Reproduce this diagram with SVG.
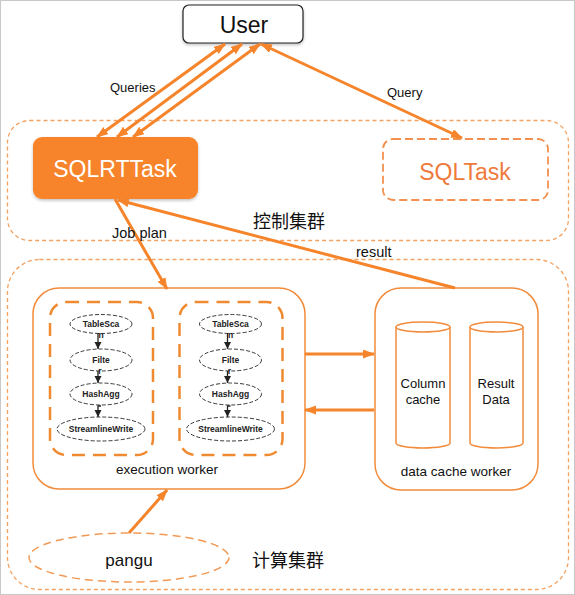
<svg xmlns="http://www.w3.org/2000/svg" width="575" height="595" viewBox="0 0 575 595">
<style>
.lbl{font-family:"Liberation Sans",Arial,sans-serif;fill:#111}
.cjk{font-family:"Noto Sans CJK SC","Liberation Sans",sans-serif;fill:#111;font-size:18px}
.grp{fill:none;stroke:#F4A261;stroke-width:1.3;stroke-dasharray:4 3}
.wk{fill:#fff;stroke:#F28C3C;stroke-width:1.5}
.op{fill:#fff;stroke:#222;stroke-width:0.9;stroke-dasharray:4 2}
.opt{font-family:"Liberation Sans",Arial,sans-serif;font-weight:bold;font-size:8.5px;fill:#222;text-anchor:middle}
.ink{stroke:#222;stroke-width:1.3;fill:none}
.conn{stroke:#F5842B;stroke-width:3;fill:none}
.cyl{fill:#fff;stroke:#F28C3C;stroke-width:1.5}
.inner{fill:none;stroke:#F08A30;stroke-width:2.5;stroke-dasharray:13 8}
</style>
<defs>
<marker id="ah" markerUnits="userSpaceOnUse" markerWidth="12" markerHeight="10" refX="11" refY="4.5" orient="auto-start-reverse">
<path d="M0,0 L12,4.5 L0,9 z" fill="#F5842B"/>
</marker>
<marker id="bh" markerUnits="userSpaceOnUse" markerWidth="8" markerHeight="8" refX="7" refY="3.5" orient="auto">
<path d="M0,0 L7,3.5 L0,7 z" fill="#222"/>
</marker>
<filter id="sh" x="-10%" y="-10%" width="120%" height="130%">
<feDropShadow dx="0" dy="1.5" stdDeviation="1.5" flood-color="#000" flood-opacity="0.25"/>
</filter>
</defs>
<rect x="0.5" y="0.5" width="574" height="594" fill="#fff" stroke="#c8c8c8" stroke-width="1"/>

<g id="control-cluster">
<rect class="grp" x="7.5" y="120.5" width="561" height="120" rx="22"/>
<text class="cjk" x="253" y="228">控制集群</text>
</g>
<g id="compute-cluster">
<rect class="grp" x="7.5" y="259.5" width="561" height="330" rx="32"/>
<text class="cjk" x="252" y="567">计算集群</text>
</g>

<g id="user">
<rect x="183" y="5" width="120" height="38" rx="6" fill="#fff" stroke="#222" stroke-width="1.2" filter="url(#sh)"/>
<text class="lbl" x="244" y="33" font-size="23" text-anchor="middle">User</text>
</g>

<g id="sqlrttask">
<rect x="33" y="137" width="165" height="62" rx="9" fill="#F7842A" filter="url(#sh)"/>
<text x="115" y="177" font-family="Liberation Sans,Arial,sans-serif" font-size="23" fill="#fff" text-anchor="middle">SQLRTTask</text>
</g>

<g id="sqltask">
<rect x="383" y="139" width="165" height="61" rx="10" fill="#fff" stroke="#F29050" stroke-width="1.8" stroke-dasharray="8 4"/>
<text x="465" y="180" font-family="Liberation Sans,Arial,sans-serif" font-size="23" fill="#EE7A3B" text-anchor="middle">SQLTask</text>
</g>

<g id="execution-worker">
<rect class="wk" x="33" y="288" width="272" height="201" rx="26"/>
<text class="lbl" x="167" y="474" font-size="13.5" text-anchor="middle">execution worker</text>
<g id="pipeline-1">
<rect class="inner" x="50" y="302" width="103" height="153" rx="16"/>
<ellipse class="op" cx="101" cy="324" rx="31" ry="9.5"/>
<text class="opt" x="101" y="327">TableSca</text>
<ellipse class="op" cx="101" cy="360" rx="31" ry="11"/>
<text class="opt" x="101" y="363">Filte</text>
<ellipse class="op" cx="101" cy="394" rx="31" ry="11"/>
<text class="opt" x="101" y="397">HashAgg</text>
<ellipse class="op" cx="101" cy="429" rx="44" ry="12"/>
<text class="opt" x="101" y="432">StreamlineWrite</text>
<path class="ink" d="M98,333 V349" marker-end="url(#bh)"/>
<text class="opt" x="101" y="338" font-size="7">n</text>
<path class="ink" d="M98,371 V383" marker-end="url(#bh)"/>
<text class="opt" x="100" y="374" font-size="7">r</text>
<path class="ink" d="M101,406 H98 V417" marker-end="url(#bh)"/>
</g>
<g id="pipeline-2" transform="translate(129.5,0)">
<rect class="inner" x="50" y="302" width="103" height="153" rx="16"/>
<ellipse class="op" cx="101" cy="324" rx="31" ry="9.5"/>
<text class="opt" x="101" y="327">TableSca</text>
<ellipse class="op" cx="101" cy="360" rx="31" ry="11"/>
<text class="opt" x="101" y="363">Filte</text>
<ellipse class="op" cx="101" cy="394" rx="31" ry="11"/>
<text class="opt" x="101" y="397">HashAgg</text>
<ellipse class="op" cx="101" cy="429" rx="44" ry="12"/>
<text class="opt" x="101" y="432">StreamlineWrite</text>
<path class="ink" d="M98,333 V349" marker-end="url(#bh)"/>
<text class="opt" x="101" y="338" font-size="7">n</text>
<path class="ink" d="M98,371 V383" marker-end="url(#bh)"/>
<text class="opt" x="100" y="374" font-size="7">r</text>
<path class="ink" d="M101,406 H98 V417" marker-end="url(#bh)"/>
</g>
</g>

<g id="data-cache-worker">
<rect class="wk" x="375" y="288" width="163" height="202" rx="26"/>
<text class="lbl" x="456" y="476" font-size="13.5" text-anchor="middle">data cache worker</text>
<g id="column-cache">
<path class="cyl" d="M396,327 V443 A27,5 0 0 0 450,443 V327 A27,5 0 0 0 396,327 z"/>
<path class="cyl" fill="none" d="M396,327 A27,5 0 0 0 450,327"/>
<text class="lbl" x="423" y="388" font-size="13" text-anchor="middle">Column</text>
<text class="lbl" x="423" y="404" font-size="13" text-anchor="middle">cache</text>
</g>
<g id="result-data">
<path class="cyl" d="M470,327 V443 A26.5,5 0 0 0 523,443 V327 A26.5,5 0 0 0 470,327 z"/>
<path class="cyl" fill="none" d="M470,327 A26.5,5 0 0 0 523,327"/>
<text class="lbl" x="496" y="388" font-size="13" text-anchor="middle">Result</text>
<text class="lbl" x="496" y="404" font-size="13" text-anchor="middle">Data</text>
</g>
</g>

<g id="pangu">
<ellipse cx="129" cy="557.5" rx="100" ry="24.5" fill="none" stroke="#F29A55" stroke-width="1.5" stroke-dasharray="8 5"/>
<text class="lbl" x="129" y="566" font-size="17" text-anchor="middle">pangu</text>
</g>

<g id="connectors">
<line class="conn" x1="97" y1="137" x2="225" y2="44" marker-start="url(#ah)" marker-end="url(#ah)"/>
<line class="conn" x1="117" y1="137" x2="242" y2="44" marker-start="url(#ah)" marker-end="url(#ah)"/>
<line class="conn" x1="133" y1="137" x2="260" y2="44" marker-start="url(#ah)" marker-end="url(#ah)"/>
<line class="conn" x1="261" y1="44" x2="462" y2="138" marker-start="url(#ah)" marker-end="url(#ah)"/>
<line class="conn" x1="115" y1="199" x2="167" y2="289" marker-end="url(#ah)"/>
<line class="conn" x1="455" y1="288" x2="118" y2="200" marker-end="url(#ah)"/>
<line class="conn" x1="305" y1="354" x2="374" y2="354" marker-end="url(#ah)"/>
<line class="conn" x1="374" y1="410" x2="305" y2="410" marker-end="url(#ah)"/>
<line class="conn" x1="129" y1="533" x2="167" y2="490" marker-end="url(#ah)"/>
<text class="lbl" x="110" y="92" font-size="13">Queries</text>
<text class="lbl" x="387" y="97" font-size="13">Query</text>
<text class="lbl" x="112" y="238" font-size="14.5">Job plan</text>
<text class="lbl" x="356" y="257" font-size="14.5">result</text>
</g>
</svg>
